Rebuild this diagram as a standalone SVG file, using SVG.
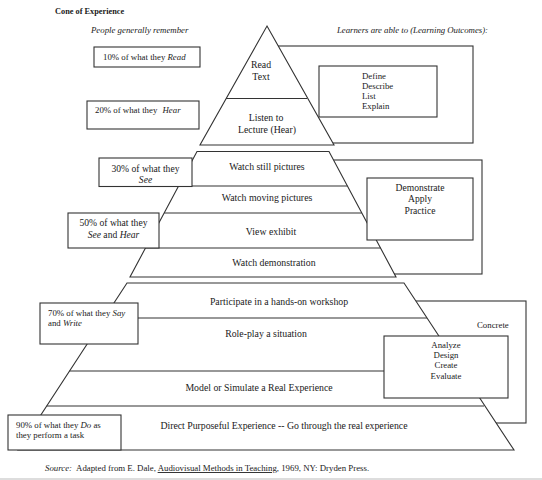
<svg xmlns="http://www.w3.org/2000/svg" width="542" height="480" viewBox="0 0 542 480">
<style>
.ln{fill:none;stroke:#333;stroke-width:1.1}
.wf{fill:#fff;stroke:#333;stroke-width:1.1}
text{font-family:"Liberation Serif","Times New Roman",serif;fill:#1a1a1a}
.c{font-size:9.8px;text-anchor:middle}
.s{font-size:8.8px}
.m{font-size:9.6px;text-anchor:middle}
.it{font-style:italic}
</style>
<rect x="0" y="0" width="542" height="480" fill="#fff"/>
<rect x="0" y="478" width="542" height="2" fill="#ddd"/>
<text x="55" y="14" style="font-size:8.3px;font-weight:bold">Cone of Experience</text>
<text x="91" y="33" class="s it">People generally remember</text>
<text x="337" y="33" class="s it" textLength="151" lengthAdjust="spacing">Learners are able to (Learning Outcomes):</text>

<g id="connectors">
<rect class="ln" x="270" y="46" width="203" height="97"/>
<rect class="ln" x="300" y="160" width="182" height="114"/>
<rect class="ln" x="300" y="301" width="226" height="122"/>
</g>

<g id="cone-top">
<polygon class="wf" points="267,26 334,145 200,145"/>
<line class="ln" x1="226" y1="98.5" x2="307" y2="98.5"/>
<text class="c" x="261" y="67.5">Read</text>
<text class="c" x="261" y="79.5">Text</text>
<text class="c" x="266" y="121">Listen to</text>
<text class="c" x="267" y="132.5">Lecture (Hear)</text>
</g>

<g id="cone-middle">
<polygon class="wf" points="197,151.5 329,151.5 396,277 130,277"/>
<line class="ln" x1="178.6" y1="186" x2="347.4" y2="186"/>
<line class="ln" x1="164.2" y1="213" x2="361.8" y2="213"/>
<line class="ln" x1="145.5" y1="248" x2="380.5" y2="248"/>
<text class="c" x="267" y="169.5">Watch still pictures</text>
<text class="c" x="267" y="200.5">Watch moving pictures</text>
<text class="c" x="271" y="234.5">View exhibit</text>
<text class="c" x="274" y="266">Watch demonstration</text>
</g>

<g id="cone-bottom">
<polygon class="wf" points="127,283 404,283 514,450 18,450"/>
<line class="ln" x1="104" y1="318" x2="427" y2="318"/>
<line class="ln" x1="69.5" y1="371" x2="462" y2="371"/>
<line class="ln" x1="46.7" y1="406" x2="484" y2="406"/>
<text class="c" x="279" y="305">Participate in a hands-on workshop</text>
<text class="c" x="266" y="337">Role-play a situation</text>
<text class="c" x="259" y="391">Model or Simulate a Real Experience</text>
<text class="c" x="284" y="429" textLength="247" lengthAdjust="spacing">Direct Purposeful Experience -- Go through the real experience</text>
</g>

<g id="r10">
<rect class="wf" x="94" y="47" width="106" height="20"/>
<text class="s" x="103" y="60">10% of what they <tspan class="it">Read</tspan></text>
</g>
<g id="r20">
<rect class="wf" x="87" y="101" width="112" height="28"/>
<text class="s" x="95" y="113">20% of what they  <tspan class="it" dx="3">Hear</tspan></text>
</g>
<g id="r30">
<rect class="wf" x="99" y="158" width="93" height="28.5"/>
<text class="m" x="145.5" y="171.5">30% of what they</text>
<text class="m it" x="145.5" y="183">See</text>
</g>
<g id="r50">
<rect class="wf" x="68" y="213" width="91" height="35"/>
<text class="m" x="113.5" y="226">50% of what they</text>
<text class="m" x="113.5" y="237.5"><tspan class="it">See</tspan> and <tspan class="it">Hear</tspan></text>
</g>
<g id="r70">
<rect class="wf" x="40" y="303" width="98" height="41"/>
<text class="s" x="48" y="316">70% of what they <tspan class="it">Say</tspan></text>
<text class="s" x="48" y="326">and <tspan class="it">Write</tspan></text>
</g>
<g id="r90">
<rect class="wf" x="8" y="415" width="113" height="35"/>
<text class="s" x="16" y="427.5">90% of what they <tspan class="it">Do</tspan> as</text>
<text class="s" x="16" y="437.5">they perform a task</text>
</g>

<g id="o-define">
<rect class="wf" x="319" y="66" width="118" height="51"/>
<text class="s" x="362" y="79">Define</text>
<text class="s" x="362" y="89">Describe</text>
<text class="s" x="362" y="99">List</text>
<text class="s" x="362" y="109">Explain</text>
</g>
<g id="o-demonstrate">
<rect class="wf" x="367" y="178" width="106" height="62"/>
<text class="m" x="420" y="191">Demonstrate</text>
<text class="m" x="420" y="202">Apply</text>
<text class="m" x="420" y="213.5">Practice</text>
</g>
<g id="o-concrete">
<text class="s" x="477" y="328">Concrete</text>
</g>
<g id="o-analyze">
<rect class="wf" x="384" y="336" width="124" height="62"/>
<text class="s" x="446" y="348" text-anchor="middle">Analyze</text>
<text class="s" x="446" y="358" text-anchor="middle">Design</text>
<text class="s" x="446" y="368" text-anchor="middle">Create</text>
<text class="s" x="446" y="378.5" text-anchor="middle">Evaluate</text>
</g>

<text class="s" x="45" y="471"><tspan class="it">Source:</tspan><tspan dx="4">Adapted from E. Dale, </tspan><tspan text-decoration="underline">Audiovisual Methods in Teaching</tspan>, 1969, NY: Dryden Press.</text>
</svg>
